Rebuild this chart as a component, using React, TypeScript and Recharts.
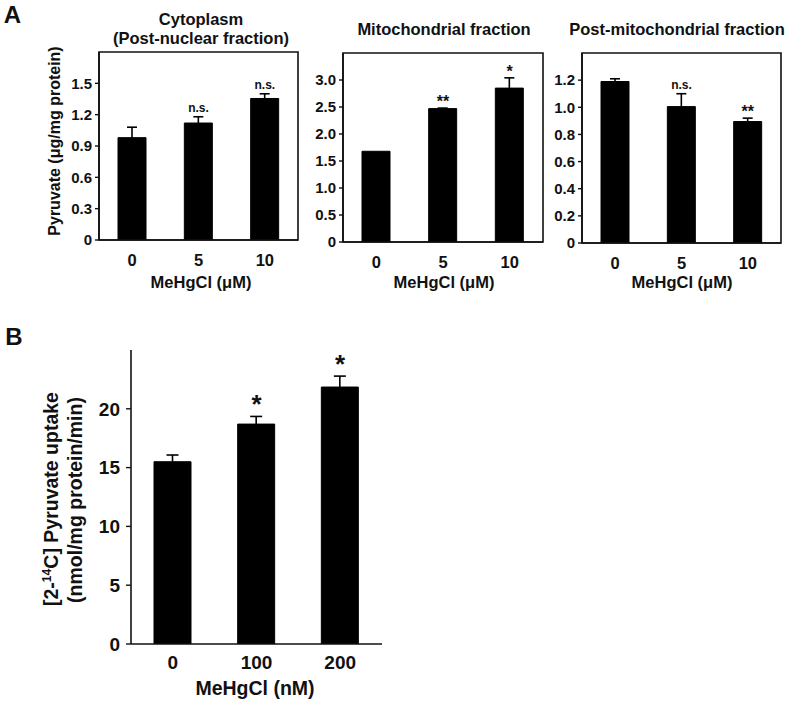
import React from 'react';
import { ComposedChart, Bar, XAxis, YAxis, ErrorBar, Line, LabelList, ReferenceArea } from 'recharts';

const FONT = '"Liberation Sans", Arial, Helvetica, sans-serif';

// Panel A data (MeHgCl, µM)
const doseA = ['0', '5', '10'];
const cytoMean = [0.98, 1.12, 1.355];
const cytoSem = [0.10, 0.06, 0.045];
const cytoSig = ['', 'n.s.', 'n.s.'];

const mitoMean = [1.68, 2.47, 2.85];
const mitoSem = [0, 0.01, 0.19];
const mitoSig = ['', '**', '*'];

const postMean = [1.19, 1.005, 0.895];
const postSem = [0.02, 0.095, 0.025];
const postSig = ['', 'n.s.', '**'];

// Panel B data (MeHgCl, nM)
const doseB = ['0', '100', '200'];
const uptakeMean = [15.5, 18.7, 21.85];
const uptakeSem = [0.57, 0.65, 0.93];
const uptakeSig = ['', '*', '*'];

const ticksCyto = [0, 0.3, 0.6, 0.9, 1.2, 1.5];
const ticksMito = [0, 0.5, 1.0, 1.5, 2.0, 2.5, 3.0];
const ticksPost = [0, 0.2, 0.4, 0.6, 0.8, 1.0, 1.2];
const ticksB = [0, 5, 10, 15, 20];

const build = (doses: string[], mean: number[], sem: number[], sig: string[]) =>
  doses.map((d, i) => ({ dose: d, mean: mean[i], err: sem[i], sig: sig[i] }));

const cytoData = build(doseA, cytoMean, cytoSem, cytoSig);
const mitoData = build(doseA, mitoMean, mitoSem, mitoSig);
const postData = build(doseA, postMean, postSem, postSig);
const uptakeData = build(doseB, uptakeMean, uptakeSem, uptakeSig);

const fmt1 = (v: number) => (v === 0 ? '0' : v.toFixed(1));
const fmt0 = (v: number) => String(v);

const AX = '#111';

type PanelProps = {
  data: any[];
  left: number; top: number; width: number; height: number;
  plotLeft: number; plotRight: number; plotTop: number; plotBottom: number;
  domain: [number, number]; ticks: number[]; fmt: (v: number) => string;
  barSize: number; framed: boolean;
  yFont: number; xFont: number; sigFont: number; nsFont: number; sigOff: number;
  yTickSize: number; yTickMargin: number; xTickMargin: number; capWidth: number;
};

function Panel(p: PanelProps) {
  const YW = 60;
  const XH = 45;
  const margin = {
    top: p.plotTop - p.top,
    left: p.plotLeft - p.left - YW,
    right: p.left + p.width - p.plotRight,
    bottom: p.top + p.height - p.plotBottom - XH,
  };
  const sigLabel = (lp: any) => {
    if (!lp.value) return null;
    const ns = lp.value === 'n.s.';
    return (
      <text
        x={lp.x}
        y={lp.y - (ns ? 5 : p.sigOff)}
        textAnchor="middle"
        fontFamily={FONT}
        fontWeight="bold"
        fontSize={ns ? p.nsFont : p.sigFont}
        fill="#111"
      >
        {lp.value}
      </text>
    );
  };
  return (
    <div style={{ position: 'absolute', left: p.left, top: p.top }}>
      <ComposedChart width={p.width} height={p.height} data={p.data} margin={margin}>
        <XAxis
          dataKey="dose"
          height={XH}
          tickLine={false}
          tickSize={0}
          tickMargin={p.xTickMargin}
          axisLine={{ stroke: AX, strokeWidth: 1.6 }}
          tick={{ fill: '#111', fontSize: p.xFont, fontWeight: 'bold', fontFamily: FONT }}
          interval={0}
        />
        <YAxis
          width={YW}
          domain={p.domain}
          ticks={p.ticks}
          allowDataOverflow
          tickFormatter={p.fmt}
          tickSize={p.yTickSize}
          tickMargin={p.yTickMargin}
          axisLine={{ stroke: AX, strokeWidth: 1.6 }}
          tickLine={{ stroke: AX, strokeWidth: 1.4 }}
          tick={{ fill: '#111', fontSize: p.yFont, fontWeight: 'bold', fontFamily: FONT }}
        />
        {p.framed ? (
          <ReferenceArea
            y1={p.domain[0]}
            y2={p.domain[1]}
            fill="#ffffff"
            fillOpacity={0}
            stroke={AX}
            strokeWidth={1.6}
            ifOverflow="visible"
          />
        ) : null}
        <Bar dataKey="mean" fill="#000" stroke="#000" barSize={p.barSize} isAnimationActive={false}>
          <ErrorBar dataKey="err" width={p.capWidth} stroke="#000" strokeWidth={1.6} direction="y" />
        </Bar>
        <Line
          dataKey={(d: any) => d.mean + d.err}
          stroke="none"
          dot={false}
          activeDot={false}
          isAnimationActive={false}
          legendType="none"
        >
          <LabelList dataKey="sig" content={sigLabel} />
        </Line>
      </ComposedChart>
    </div>
  );
}

function T({ x, y, size, children, rot }: { x: number; y: number; size: number; children: any; rot?: boolean }) {
  return (
    <div
      style={{
        position: 'absolute',
        left: x,
        top: y,
        transform: `translate(-50%, -50%)${rot ? ' rotate(-90deg)' : ''}`,
        fontSize: size,
        fontWeight: 'bold',
        fontFamily: FONT,
        whiteSpace: 'nowrap',
        lineHeight: 1,
        color: '#111',
        zIndex: 2,
      }}
    >
      {children}
    </div>
  );
}

export default function App() {
  const commonA = {
    top: 0, height: 300, plotTop: 52, barSize: 28, framed: true,
    yFont: 15, xFont: 16.5, sigFont: 16, nsFont: 12, yTickSize: 4, yTickMargin: 3, xTickMargin: 14, capWidth: 5,
  };
  return (
    <div style={{ position: 'absolute', left: 0, top: 0, width: 787, height: 702, background: '#fff', overflow: 'hidden' }}>
      <T x={12.5} y={15} size={24}>A</T>
      <T x={14} y={337} size={24}>B</T>

      {/* A1 */}
      <Panel
        {...commonA}
        data={cytoData}
        left={0}
        width={310}
        plotLeft={99}
        plotRight={298}
        plotBottom={240}
        domain={[0, 1.8]}
        ticks={ticksCyto}
        fmt={fmt1}
        sigFont={12}
        sigOff={5}
      />
      <T x={201} y={19} size={16.5}>Cytoplasm</T>
      <T x={201} y={38} size={16.5}>(Post-nuclear fraction)</T>
      <T x={55} y={141} size={16} rot>Pyruvate (μg/mg protein)</T>
      <T x={201} y={282} size={16.5}>MeHgCl (μM)</T>

      {/* A2 */}
      <Panel
        {...commonA}
        data={mitoData}
        left={300}
        width={250}
        plotLeft={343}
        plotRight={543}
        plotTop={53}
        plotBottom={242}
        domain={[0, 3.5]}
        ticks={ticksMito}
        fmt={fmt1}
        sigOff={1}
      />
      <T x={444} y={29} size={16.5}>Mitochondrial fraction</T>
      <T x={444} y={282} size={16.5}>MeHgCl (μM)</T>

      {/* A3 */}
      <Panel
        {...commonA}
        data={postData}
        left={540}
        width={247}
        plotLeft={582}
        plotRight={781}
        plotTop={53}
        plotBottom={243}
        domain={[0, 1.4]}
        ticks={ticksPost}
        fmt={fmt1}
        sigOff={1}
      />
      <T x={677} y={29} size={16.5}>Post-mitochondrial fraction</T>
      <T x={682} y={282} size={16.5}>MeHgCl (μM)</T>

      {/* B */}
      <Panel
        data={uptakeData}
        left={0}
        top={320}
        width={400}
        height={382}
        plotLeft={131}
        plotRight={382}
        plotTop={350}
        plotBottom={644}
        domain={[0, 25]}
        ticks={ticksB}
        fmt={fmt0}
        barSize={37}
        framed={false}
        yFont={19}
        xFont={19}
        sigFont={26}
        nsFont={12}
        sigOff={3}
        yTickSize={5}
        yTickMargin={6}
        xTickMargin={12}
        capWidth={6}
      />
      <T x={52} y={499} size={19.5} rot>
        [2-<span style={{ fontSize: '0.62em', position: 'relative', top: '-0.55em' }}>14</span>C] Pyruvate uptake
      </T>
      <T x={76} y={500} size={19.5} rot>(nmol/mg protein/min)</T>
      <T x={255} y={689} size={19.5}>MeHgCl (nM)</T>
    </div>
  );
}
